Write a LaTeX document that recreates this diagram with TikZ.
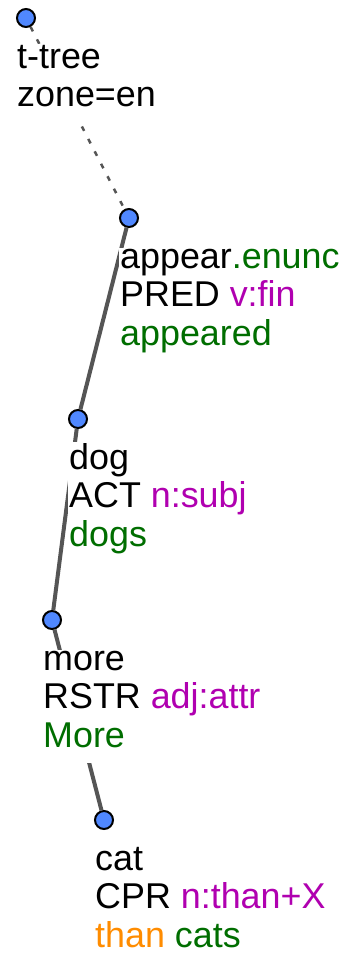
\documentclass[tikz,border=0pt]{standalone}
\usepackage{fontspec}
\setmainfont{Liberation Sans}
\usepackage{xcolor}
\usepackage{tikz}
\definecolor{ttgreen}{HTML}{006E00}
\definecolor{ttpurple}{HTML}{B000B0}
\definecolor{ttorange}{HTML}{FF8C00}
\definecolor{ttblue}{HTML}{5088FF}
\definecolor{ttgray}{HTML}{555555}

\begin{document}
\begin{tikzpicture}[
  x=1bp, y=-1bp,
  tnode/.style={circle, draw=black, line width=2bp, fill=ttblue,
    minimum size=18bp, inner sep=0pt},
  tlabel/.style={anchor=base west, align=left, fill=white, text depth=15bp,
    inner xsep=1bp, inner ysep=1bp, font=\fontsize{36}{38.5}\selectfont},
  tedge/.style={line width=4bp, ttgray},
  zedge/.style={line width=2.5bp, ttgray, dash pattern=on 5bp off 9bp},
]
  \useasboundingbox (0,0) rectangle (356,956);

  \node[tnode] (ttree) at (26,18) {};
  \node[tnode] (appear) at (129,218) {};
  \node[tnode] (dog) at (78,419) {};
  \node[tnode] (more) at (52,620) {};
  \node[tnode] (cat) at (104,820) {};

  \draw[zedge] (ttree) -- (appear);
  \draw[tedge] (appear) -- (dog);
  \draw[tedge] (dog) -- (more);
  \draw[tedge] (more) -- (cat);

  % base anchor sits on the last line
  \node[tlabel] (ttree-txt) at ([shift={(-10,88.5)}]ttree.center) {t-tree\\zone=en};
  \node[tlabel] (appear-txt) at ([shift={(-10,127)}]appear.center) {
    appear\textcolor{ttgreen}{.enunc}\\
    PRED \textcolor{ttpurple}{v:fin}\\
    \textcolor{ttgreen}{appeared}
  };
  \node[tlabel] (dog-txt) at ([shift={(-10,127)}]dog.center) {
    dog\\
    ACT \textcolor{ttpurple}{n:subj}\\
    \textcolor{ttgreen}{dogs}
  };
  \node[tlabel] (more-txt) at ([shift={(-10,127)}]more.center) {
    more\\
    RSTR \textcolor{ttpurple}{adj:attr}\\
    \textcolor{ttgreen}{More}
  };
  \node[tlabel] (cat-txt) at ([shift={(-10,127)}]cat.center) {
    cat\\
    CPR \textcolor{ttpurple}{n:than+X}\\
    \textcolor{ttorange}{than} \textcolor{ttgreen}{cats}
  };
\end{tikzpicture}
\end{document}
